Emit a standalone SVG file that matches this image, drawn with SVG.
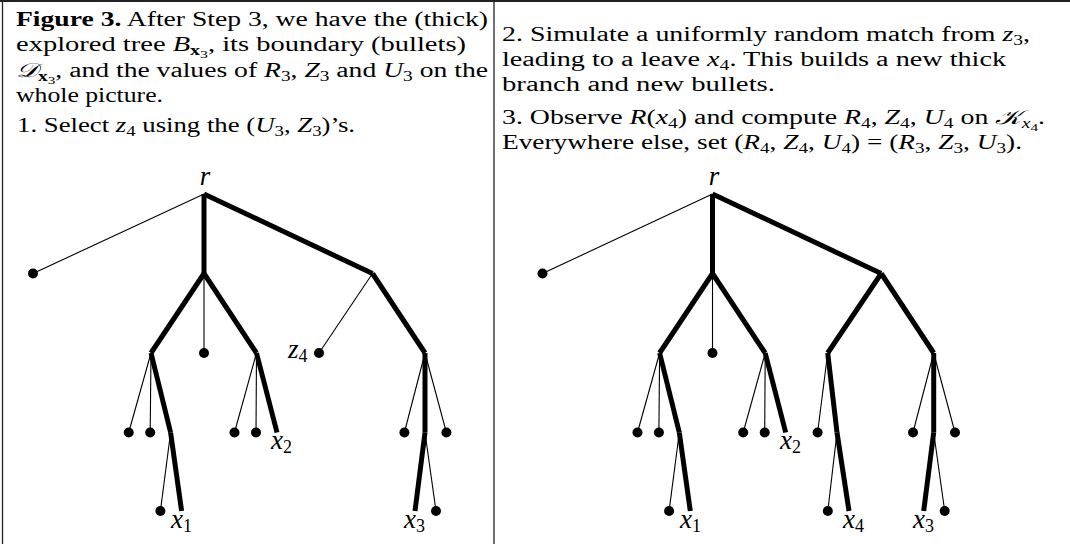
<svg xmlns="http://www.w3.org/2000/svg" width="1070" height="544" viewBox="0 0 1070 544">
<style>
text { font-family: "Liberation Serif", "DejaVu Serif", serif; fill: #000; }
.body { font-size: 20px; }
.i { font-style: italic; }
.b { font-weight: bold; }
.s { font-size: 14px; }
.ss { font-size: 11px; }
.cal { font-family: "DejaVu Serif", "DejaVu Sans", "Liberation Serif", serif; font-style: italic; }
.lbl { font-size: 27px; font-style: italic; }
.lsub { font-size: 18px; font-style: normal; }
.thick { stroke: #000; stroke-width: 5; stroke-linecap: butt; fill: none; }
.thin { stroke: #000; stroke-width: 1.1; fill: none; }
.dot { fill: #000; }
.frame { stroke: #222; fill: none; }
</style>
<rect width="1070" height="544" fill="#fff"/>
<g id="frame">
<line class="frame" x1="0" y1="1" x2="1070" y2="1" stroke-width="2"/>
<line class="frame" x1="2.5" y1="0" x2="2.5" y2="544" stroke-width="1.3"/>
<line class="frame" x1="494" y1="0" x2="494" y2="544" stroke-width="1.3"/>
</g>
<g id="caption-left">
<text class="body" x="16" y="26" textLength="472" lengthAdjust="spacingAndGlyphs"><tspan class="b">Figure 3.</tspan> After Step 3, we have the (thick)</text>
<text class="body" x="16" y="51" textLength="450" lengthAdjust="spacingAndGlyphs">explored tree <tspan class="i">B</tspan><tspan class="s b" dy="4">x</tspan><tspan class="ss" dy="3">3</tspan><tspan dy="-7">, its boundary (bullets)</tspan></text>
<text class="body" x="16" y="76.5" textLength="472" lengthAdjust="spacingAndGlyphs"><tspan class="cal">𝒟</tspan><tspan class="s b" dy="4">x</tspan><tspan class="ss" dy="3">3</tspan><tspan dy="-7">, and the values of </tspan><tspan class="i">R</tspan><tspan class="s" dy="4">3</tspan><tspan dy="-4">, </tspan><tspan class="i">Z</tspan><tspan class="s" dy="4">3</tspan><tspan dy="-4"> and </tspan><tspan class="i">U</tspan><tspan class="s" dy="4">3</tspan><tspan dy="-4"> on the</tspan></text>
<text class="body" x="16" y="101.5" textLength="147" lengthAdjust="spacingAndGlyphs">whole picture.</text>
<text class="body" x="17" y="132" textLength="338" lengthAdjust="spacingAndGlyphs">1. Select <tspan class="i">z</tspan><tspan class="s" dy="4">4</tspan><tspan dy="-4"> using the (</tspan><tspan class="i">U</tspan><tspan class="s" dy="4">3</tspan><tspan dy="-4">, </tspan><tspan class="i">Z</tspan><tspan class="s" dy="4">3</tspan><tspan dy="-4">)’s.</tspan></text>
</g>
<g id="caption-right">
<text class="body" x="502" y="41" textLength="528" lengthAdjust="spacingAndGlyphs">2. Simulate a uniformly random match from <tspan class="i">z</tspan><tspan class="s" dy="4">3</tspan><tspan dy="-4">,</tspan></text>
<text class="body" x="502" y="66" textLength="504" lengthAdjust="spacingAndGlyphs">leading to a leave <tspan class="i">x</tspan><tspan class="s" dy="4">4</tspan><tspan dy="-4">. This builds a new thick</tspan></text>
<text class="body" x="502" y="90.5" textLength="273" lengthAdjust="spacingAndGlyphs">branch and new bullets.</text>
<text class="body" x="502" y="124" textLength="543" lengthAdjust="spacingAndGlyphs">3. Observe <tspan class="i">R</tspan>(<tspan class="i">x</tspan><tspan class="s" dy="4">4</tspan><tspan dy="-4">) and compute </tspan><tspan class="i">R</tspan><tspan class="s" dy="4">4</tspan><tspan dy="-4">, </tspan><tspan class="i">Z</tspan><tspan class="s" dy="4">4</tspan><tspan dy="-4">, </tspan><tspan class="i">U</tspan><tspan class="s" dy="4">4</tspan><tspan dy="-4"> on </tspan><tspan class="cal">𝒦</tspan><tspan class="s i" dy="4">x</tspan><tspan class="ss" dy="3">4</tspan><tspan dy="-7">.</tspan></text>
<text class="body" x="502" y="149" textLength="520" lengthAdjust="spacingAndGlyphs">Everywhere else, set (<tspan class="i">R</tspan><tspan class="s" dy="4">4</tspan><tspan dy="-4">, </tspan><tspan class="i">Z</tspan><tspan class="s" dy="4">4</tspan><tspan dy="-4">, </tspan><tspan class="i">U</tspan><tspan class="s" dy="4">4</tspan><tspan dy="-4">) = (</tspan><tspan class="i">R</tspan><tspan class="s" dy="4">3</tspan><tspan dy="-4">, </tspan><tspan class="i">Z</tspan><tspan class="s" dy="4">3</tspan><tspan dy="-4">, </tspan><tspan class="i">U</tspan><tspan class="s" dy="4">3</tspan><tspan dy="-4">).</tspan></text>
</g>
<g id="connectors">
<line class="thin" x1="204" y1="194" x2="33" y2="273.5"/>
<line class="thin" x1="204" y1="273.5" x2="204" y2="353"/>
<line class="thin" x1="372.5" y1="273.5" x2="319" y2="353"/>
<line class="thin" x1="151" y1="353" x2="128.7" y2="432.5"/>
<line class="thin" x1="151" y1="353" x2="150.2" y2="432.5"/>
<line class="thin" x1="256.5" y1="353" x2="234.5" y2="432.5"/>
<line class="thin" x1="256.5" y1="353" x2="256" y2="432.5"/>
<line class="thin" x1="170.6" y1="432.5" x2="160.4" y2="511"/>
<line class="thin" x1="425" y1="353" x2="404.4" y2="432.5"/>
<line class="thin" x1="425" y1="353" x2="446.4" y2="432.5"/>
<line class="thin" x1="425" y1="432.5" x2="436" y2="511"/>
<line class="thick" x1="204" y1="194" x2="204" y2="273.5"/>
<line class="thick" x1="204" y1="194" x2="372.5" y2="273.5"/>
<line class="thick" x1="204" y1="273.5" x2="151" y2="353"/>
<line class="thick" x1="204" y1="273.5" x2="256.5" y2="353"/>
<line class="thick" x1="372.5" y1="273.5" x2="425" y2="353"/>
<line class="thick" x1="151" y1="353" x2="170.6" y2="432.5"/>
<line class="thick" x1="170.6" y1="432.5" x2="181.6" y2="511"/>
<line class="thick" x1="256.5" y1="353" x2="277" y2="432.5"/>
<line class="thick" x1="425" y1="353" x2="425" y2="432.5"/>
<line class="thick" x1="425" y1="432.5" x2="415" y2="511"/>
<line class="thin" x1="712.5" y1="194" x2="542.5" y2="273.5"/>
<line class="thin" x1="712.5" y1="273.5" x2="712.5" y2="353"/>
<line class="thin" x1="659.6" y1="353" x2="637.5" y2="432.5"/>
<line class="thin" x1="659.6" y1="353" x2="658.9" y2="432.5"/>
<line class="thin" x1="765.2" y1="353" x2="743.2" y2="432.5"/>
<line class="thin" x1="765.2" y1="353" x2="764.7" y2="432.5"/>
<line class="thin" x1="679.3" y1="432.5" x2="669.1" y2="511"/>
<line class="thin" x1="827.7" y1="353" x2="817.6" y2="432.5"/>
<line class="thin" x1="837" y1="432.5" x2="827.8" y2="511"/>
<line class="thin" x1="933.7" y1="353" x2="913" y2="432.5"/>
<line class="thin" x1="933.7" y1="353" x2="955" y2="432.5"/>
<line class="thin" x1="933.7" y1="432.5" x2="944.7" y2="511"/>
<line class="thick" x1="712.5" y1="194" x2="712.5" y2="273.5"/>
<line class="thick" x1="712.5" y1="194" x2="881.2" y2="273.5"/>
<line class="thick" x1="712.5" y1="273.5" x2="659.6" y2="353"/>
<line class="thick" x1="712.5" y1="273.5" x2="765.2" y2="353"/>
<line class="thick" x1="881.2" y1="273.5" x2="827.7" y2="353"/>
<line class="thick" x1="881.2" y1="273.5" x2="933.7" y2="353"/>
<line class="thick" x1="659.6" y1="353" x2="679.3" y2="432.5"/>
<line class="thick" x1="679.3" y1="432.5" x2="690.3" y2="511"/>
<line class="thick" x1="765.2" y1="353" x2="785.7" y2="432.5"/>
<line class="thick" x1="827.7" y1="353" x2="837" y2="432.5"/>
<line class="thick" x1="837" y1="432.5" x2="849" y2="511"/>
<line class="thick" x1="933.7" y1="353" x2="933.7" y2="432.5"/>
<line class="thick" x1="933.7" y1="432.5" x2="923.7" y2="511"/>
</g>
<g id="left-tree">
<g id="L-root"><text class="lbl" x="205" y="185" text-anchor="middle">r</text></g>
<g id="L-b1"><circle class="dot" cx="33" cy="273.5" r="5"/></g>
<g id="L-b2"><circle class="dot" cx="204" cy="353" r="5"/></g>
<g id="L-z4"><circle class="dot" cx="319" cy="353" r="5"/><text class="lbl" x="288" y="358">z<tspan class="lsub" dy="4">4</tspan></text></g>
<g id="L-b3"><circle class="dot" cx="128.7" cy="432.5" r="5"/></g>
<g id="L-b4"><circle class="dot" cx="150.2" cy="432.5" r="5"/></g>
<g id="L-b5"><circle class="dot" cx="234.5" cy="432.5" r="5"/></g>
<g id="L-b6"><circle class="dot" cx="256" cy="432.5" r="5"/></g>
<g id="L-b7"><circle class="dot" cx="404.4" cy="432.5" r="5"/></g>
<g id="L-b8"><circle class="dot" cx="446.4" cy="432.5" r="5"/></g>
<g id="L-b9"><circle class="dot" cx="160.4" cy="511" r="5"/></g>
<g id="L-b10"><circle class="dot" cx="436" cy="511" r="5"/></g>
<g id="L-x1"><text class="lbl" x="171" y="528">x<tspan class="lsub" dy="4">1</tspan></text></g>
<g id="L-x2"><text class="lbl" x="271" y="449">x<tspan class="lsub" dy="4">2</tspan></text></g>
<g id="L-x3"><text class="lbl" x="404" y="528">x<tspan class="lsub" dy="4">3</tspan></text></g>
</g>
<g id="right-tree">
<g id="R-root"><text class="lbl" x="714" y="185" text-anchor="middle">r</text></g>
<g id="R-b1"><circle class="dot" cx="542.5" cy="273.5" r="5"/></g>
<g id="R-b2"><circle class="dot" cx="712.5" cy="353" r="5"/></g>
<g id="R-b3"><circle class="dot" cx="637.5" cy="432.5" r="5"/></g>
<g id="R-b4"><circle class="dot" cx="658.9" cy="432.5" r="5"/></g>
<g id="R-b5"><circle class="dot" cx="743.2" cy="432.5" r="5"/></g>
<g id="R-b6"><circle class="dot" cx="764.7" cy="432.5" r="5"/></g>
<g id="R-b7"><circle class="dot" cx="817.6" cy="432.5" r="5"/></g>
<g id="R-b8"><circle class="dot" cx="913" cy="432.5" r="5"/></g>
<g id="R-b9"><circle class="dot" cx="955" cy="432.5" r="5"/></g>
<g id="R-b10"><circle class="dot" cx="669.1" cy="511" r="5"/></g>
<g id="R-b11"><circle class="dot" cx="827.8" cy="511" r="5"/></g>
<g id="R-b12"><circle class="dot" cx="944.7" cy="511" r="5"/></g>
<g id="R-x1"><text class="lbl" x="680" y="528">x<tspan class="lsub" dy="4">1</tspan></text></g>
<g id="R-x2"><text class="lbl" x="780" y="449">x<tspan class="lsub" dy="4">2</tspan></text></g>
<g id="R-x4"><text class="lbl" x="843" y="528">x<tspan class="lsub" dy="4">4</tspan></text></g>
<g id="R-x3"><text class="lbl" x="913" y="528">x<tspan class="lsub" dy="4">3</tspan></text></g>
</g>
</svg>
